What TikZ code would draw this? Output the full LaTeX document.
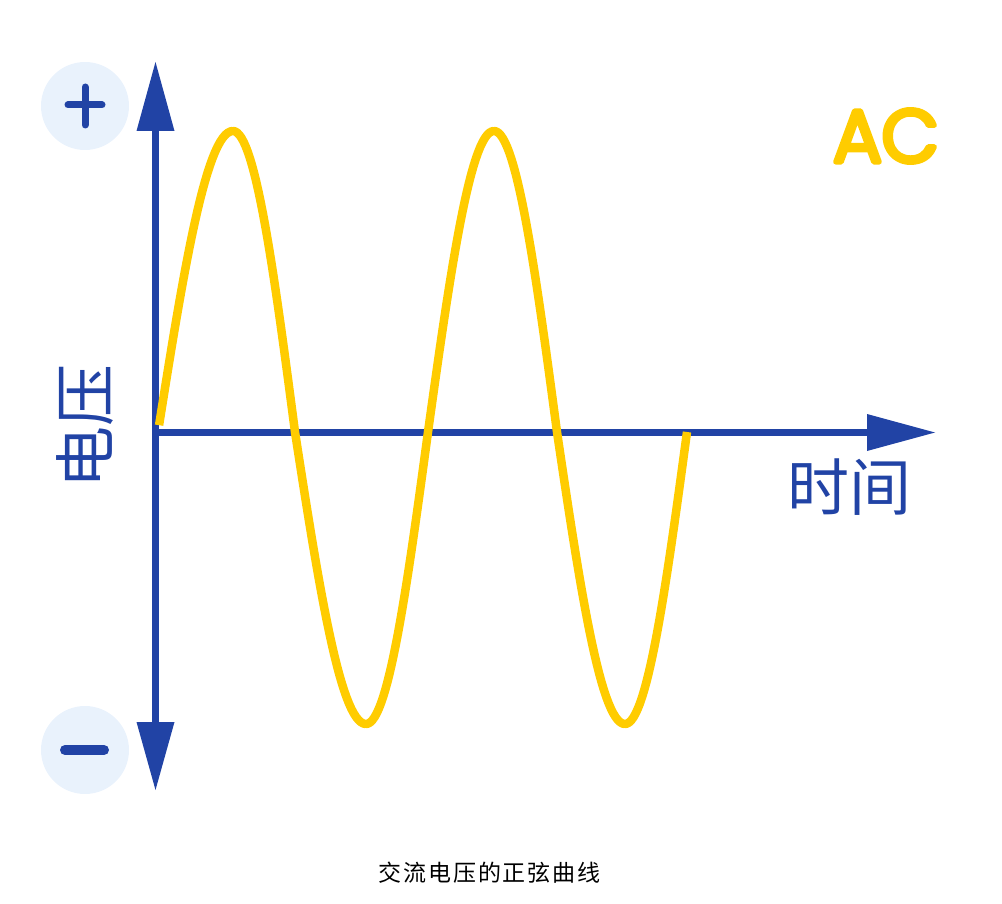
\documentclass[tikz,border=0pt]{standalone}
\usepackage{fontspec}
\newfontfamily\cjk{Noto Sans CJK SC}
\newfontfamily\capfont[LetterSpace=8]{Noto Sans CJK SC}
\newfontfamily\acfont[FakeBold=7]{Poppins Light}
\definecolor{axisblue}{HTML}{2143A5}
\definecolor{waveyellow}{HTML}{FFCC00}
\definecolor{badge}{HTML}{E9F2FC}
\tikzset{
  x=1pt,y=-1pt,
  axisline/.style={draw=axisblue,line width=6.5pt},
  tipshape/.style={fill=axisblue,draw=none},
  wave/.style={draw=waveyellow,line width=8.5pt,line join=round},
  badgedisc/.style={circle,fill=badge,draw=none,minimum size=88pt,inner sep=0pt},
  signline/.style={draw=axisblue,line cap=round},
  axislabel/.style={font=\cjk\fontsize{62}{64}\selectfont,text=axisblue,inner sep=0pt},
  caption/.style={font=\capfont\fontsize{23}{25}\selectfont,text=black,inner sep=0pt},
  aclabel/.style={font=\acfont\fontsize{74}{76}\selectfont,text=waveyellow,inner sep=0pt}
}
\begin{document}
\begin{tikzpicture}
\useasboundingbox (0,0) rectangle (1002,904);
\coordinate (top) at (155.5,130);
\coordinate (bot) at (155.5,723);
\coordinate (orig) at (155,432.5);
\coordinate (right) at (869,432.5);
% badges
\node[badgedisc] (plusdisc) at (85,106) {};
\node[badgedisc] (minusdisc) at (85,750) {};
\draw[signline,line width=7pt] (68,105) -- (102,105);
\draw[signline,line width=7pt] (85,87) -- (85,125);
\draw[signline,line width=10pt] (65,750) -- (104,750);
% axes
\draw[axisline] (top) -- (bot);
\draw[axisline] (orig) -- (right);
\fill[tipshape] (155.5,62) -- (174.5,131) -- (136.5,131) -- cycle;
\fill[tipshape] (155.5,790) -- (174.5,722) -- (136.5,722) -- cycle;
\fill[tipshape] (935,432.5) -- (867,414) -- (867,451) -- cycle;
% wave
\draw[wave]
  plot[domain=1.3:90,samples=30] ({158+75*\x/90},{432-301*sin(\x)})
  -- plot[domain=90:180,samples=30] ({233+62*(\x-90)/90},{432-301*sin(\x)})
  -- plot[domain=0:90,samples=30] ({295+71*\x/90},{432+292*sin(\x)})
  -- plot[domain=90:180,samples=30] ({366+62*(\x-90)/90},{432+292*sin(\x)})
  -- plot[domain=0:90,samples=30] ({428+66*\x/90},{432-301*sin(\x)})
  -- plot[domain=90:180,samples=30] ({494+63*(\x-90)/90},{432-301*sin(\x)})
  -- plot[domain=0:90,samples=30] ({557+68*\x/90},{432+292*sin(\x)})
  -- plot[domain=90:180,samples=30] ({625+62*(\x-90)/90},{432+292*sin(\x)});
% labels
\node[axislabel,rotate=90] (volt) at (85,426) {电压};
\node[axislabel] (timel) at (849,487) {时间};
\begin{scope}[line join=round,line cap=round]
\node[aclabel] (ac) at (886,136) {AC};
\end{scope}
\node[caption] (cap) at (489.5,873) {交流电压的正弦曲线};
\end{tikzpicture}
\end{document}
